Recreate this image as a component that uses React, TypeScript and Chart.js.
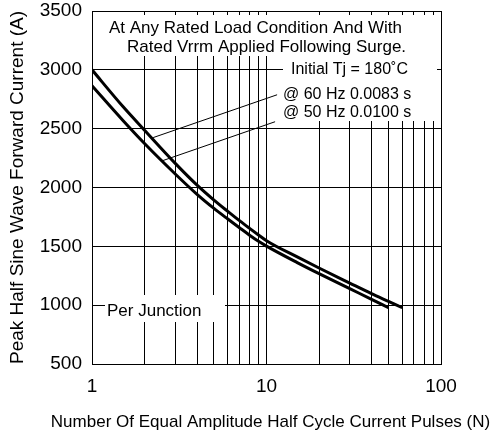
import { useEffect, useRef } from 'react';
import { Chart, registerables } from 'chart.js';

Chart.register(...registerables);

// ---- data ----
const pulses60Hz = [1, 1.5, 2, 3, 4, 5, 6, 7, 8, 9, 10, 15, 20, 30, 40, 50, 60];
const current60Hz = [3000, 2690, 2487, 2205, 2020, 1893, 1797, 1718, 1653, 1597, 1548, 1410, 1316, 1188, 1098, 1032, 978];

const pulses50Hz = [1, 1.5, 2, 3, 4, 5, 6, 7, 8, 9, 10, 15, 20, 30, 40, 50];
const current50Hz = [2865, 2572, 2374, 2115, 1942, 1822, 1732, 1658, 1595, 1543, 1502, 1362, 1268, 1140, 1050, 978];

// leader lines from the labels to the curves (data coordinates)
const leader60X = [2.24, 11.5];
const leader60Y = [2424, 2788];
const leader50X = [2.55, 11.2];
const leader50Y = [2229, 2559];

const xGridValues = [1, 2, 3, 4, 5, 6, 7, 8, 9, 10, 20, 30, 40, 50, 60, 70, 80, 90, 100];
const xTickLabels = [1, 10, 100];
const yTickValues = [500, 1000, 1500, 2000, 2500, 3000, 3500];

const xTitle = 'Number Of Equal Amplitude Half Cycle Current Pulses (N)';
const yTitle = 'Peak Half Sine Wave Forward Current (A)';
const noteLines = ['At Any Rated Load Condition And With', 'Rated Vrrm Applied Following Surge.'];
const noteTj = 'Initial Tj = 180˚C';
const label60 = '@ 60 Hz 0.0083 s';
const label50 = '@ 50 Hz 0.0100 s';
const noteJunction = 'Per Junction';

const FONT = '"Liberation Sans", Arial, sans-serif';

const toXY = (xs: number[], ys: number[]) => xs.map((x, i) => ({ x, y: ys[i] }));

const overlayPlugin = {
  id: 'overlayNotes',
  beforeDatasetsDraw(chart: any) {
    const { ctx, chartArea: a } = chart;
    const L = a.left;
    const T = a.top;
    ctx.save();
    ctx.fillStyle = '#ffffff';
    // white backgrounds behind the notes
    ctx.fillRect(L + 1.5, T + 4, a.right - L - 3, 41);
    ctx.fillRect(L + 191, T + 44, a.right - L - 195, 66);
    ctx.fillRect(L + 13, T + 284, 120, 27);

    ctx.fillStyle = '#000000';
    ctx.textBaseline = 'alphabetic';
    ctx.textAlign = 'left';
    ctx.font = `17px ${FONT}`;
    ctx.fillText(noteLines[0], L + 17, T + 22);
    ctx.fillText(noteLines[1], L + 35, T + 40.5);
    ctx.fillText(noteJunction, L + 15, T + 305);
    ctx.font = `16px ${FONT}`;
    ctx.fillText(noteTj, L + 199, T + 63);
    ctx.fillText(label60, L + 191, T + 88);
    ctx.fillText(label50, L + 191, T + 106);
    ctx.restore();
  },
  afterDraw(chart: any) {
    const { ctx, chartArea: a } = chart;
    ctx.save();
    ctx.fillStyle = '#000000';
    ctx.font = `17px ${FONT}`;
    ctx.textAlign = 'center';
    ctx.textBaseline = 'middle';
    ctx.fillText(xTitle, (a.left + a.right) / 2 + 4, a.bottom + 58);
    ctx.restore();
  },
};

export default function App() {
  const ref = useRef<HTMLCanvasElement | null>(null);

  useEffect(() => {
    if (!ref.current) return;
    Chart.defaults.font.family = FONT;
    Chart.defaults.color = '#000';

    const chart = new Chart(ref.current, {
      type: 'line',
      data: {
        datasets: [
          {
            label: '60 Hz',
            data: toXY(pulses60Hz, current60Hz),
            borderColor: '#000',
            borderWidth: 3,
            pointRadius: 0,
            cubicInterpolationMode: 'monotone',
            fill: false,
          },
          {
            label: '50 Hz',
            data: toXY(pulses50Hz, current50Hz),
            borderColor: '#000',
            borderWidth: 3,
            pointRadius: 0,
            cubicInterpolationMode: 'monotone',
            fill: false,
          },
          {
            label: 'leader 60',
            data: toXY(leader60X, leader60Y),
            borderColor: '#000',
            borderWidth: 1,
            pointRadius: 0,
            fill: false,
          },
          {
            label: 'leader 50',
            data: toXY(leader50X, leader50Y),
            borderColor: '#000',
            borderWidth: 1,
            pointRadius: 0,
            fill: false,
          },
        ],
      },
      options: {
        animation: false,
        responsive: false,
        events: [],
        layout: { padding: { left: 0, top: 11, right: 55, bottom: 0 } },
        plugins: {
          legend: { display: false },
          tooltip: { enabled: false },
        },
        scales: {
          x: {
            type: 'logarithmic',
            min: 1,
            max: 100,
            afterBuildTicks: (s: any) => {
              s.ticks = xGridValues.map((v) => ({ value: v }));
            },
            afterFit: (s: any) => {
              s.height = 75;
              s.paddingLeft = 0;
              s.paddingRight = 0;
              s.paddingTop = 0;
              s.paddingBottom = 0;
            },
            ticks: {
              autoSkip: false,
              maxRotation: 0,
              padding: 11,
              font: { size: 19 },
              color: '#000',
              callback: (v: any) => (xTickLabels.includes(Number(v)) ? String(v) : ''),
            },
            grid: { color: '#000', lineWidth: 1, drawTicks: false },
            border: { color: '#000', width: 1 },
            title: { display: false },
          },
          y: {
            type: 'linear',
            min: 500,
            max: 3500,
            afterBuildTicks: (s: any) => {
              s.ticks = yTickValues.map((v) => ({ value: v }));
            },
            afterFit: (s: any) => {
              s.width = 92;
              s.paddingLeft = 0;
              s.paddingRight = 0;
              s.paddingTop = 0;
              s.paddingBottom = 0;
            },
            ticks: {
              padding: 10,
              font: { size: 19 },
              color: '#000',
              callback: (v: any) => String(v),
            },
            grid: { color: '#000', lineWidth: 1, drawTicks: false },
            border: { color: '#000', width: 1 },
            title: {
              display: true,
              text: yTitle,
              font: { size: 19 },
              color: '#000',
              padding: { top: 6.6, bottom: 0 },
            },
          },
        },
      },
      plugins: [overlayPlugin],
    } as any);

    return () => chart.destroy();
  }, []);

  return (
    <canvas
      ref={ref}
      width={496}
      height={439}
      style={{ position: 'absolute', left: 0, top: 0, display: 'block' }}
    />
  );
}
